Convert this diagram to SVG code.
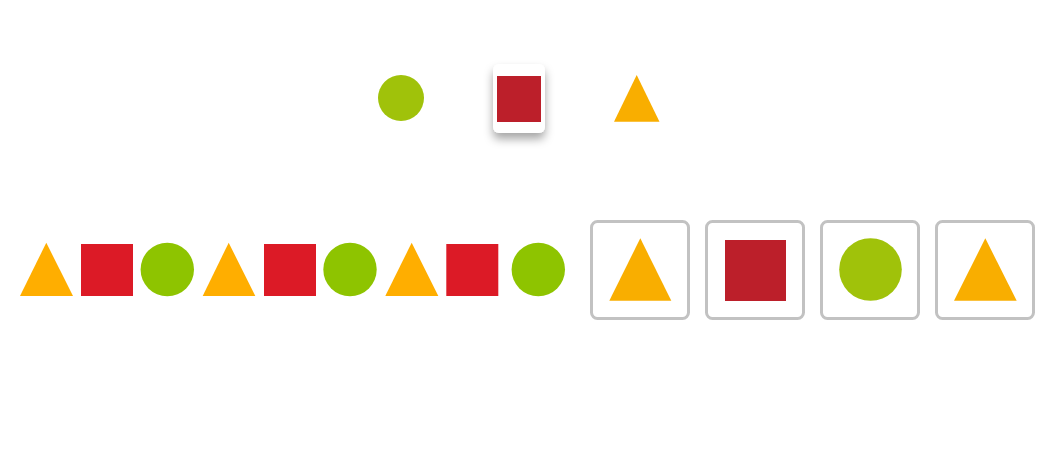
<svg xmlns="http://www.w3.org/2000/svg" width="1056" height="456" viewBox="0 0 1056 456">
<style>
.tri{fill:#FFAE00}
.sq{fill:#DC1A26}
.ci{fill:#8EC400}
.tri2{fill:#F9AE00}
.sq2{fill:#BC1F2A}
.ci2{fill:#A0C20A}
.card{fill:#fff;stroke:#C2C2C2;stroke-width:3}
</style>
<defs>
<filter id="sh" x="-60%" y="-50%" width="220%" height="220%">
<feDropShadow dx="0" dy="6" stdDeviation="5" flood-color="#000" flood-opacity="0.35"/>
</filter>
</defs>
<rect width="1056" height="456" fill="#fff"/>
<g id="top">
<circle class="ci2" cx="401" cy="98" r="23"/>
<rect x="493" y="64" width="52" height="69" rx="6" fill="#fff" filter="url(#sh)"/>
<rect class="sq2" x="497" y="76" width="44" height="46"/>
<polygon class="tri2" points="636.7,75 659.5,121.7 614,121.7"/>
</g>
<g id="sequence">
<polygon class="tri" points="46.3,242.7 73,296 20,296"/>
<rect class="sq" x="81" y="244" width="52" height="52"/>
<circle class="ci" cx="167.3" cy="269.5" r="26.7"/>
<polygon class="tri" points="228.7,242.7 255.3,296 202.7,296"/>
<rect class="sq" x="264" y="244" width="52" height="52"/>
<circle class="ci" cx="350" cy="269.5" r="26.7"/>
<polygon class="tri" points="411.7,242.7 438.3,296 385.3,296"/>
<rect class="sq" x="446.3" y="244" width="52" height="52"/>
<circle class="ci" cx="538.3" cy="269.5" r="26.7"/>
</g>
<g id="card1">
<rect class="card" x="591.5" y="221.5" width="97" height="97" rx="6"/>
<polygon class="tri2" points="640.3,238.3 671.3,300.7 609.3,300.7"/>
</g>
<g id="card2">
<rect class="card" x="706.5" y="221.5" width="97" height="97" rx="6"/>
<rect class="sq2" x="725" y="240" width="61" height="61"/>
</g>
<g id="card3">
<rect class="card" x="821.5" y="221.5" width="97" height="97" rx="6"/>
<circle class="ci2" cx="870.5" cy="269.5" r="31.3"/>
</g>
<g id="card4">
<rect class="card" x="936.5" y="221.5" width="97" height="97" rx="6"/>
<polygon class="tri2" points="985.3,238.3 1016.7,300.7 954,300.7"/>
</g>
</svg>
